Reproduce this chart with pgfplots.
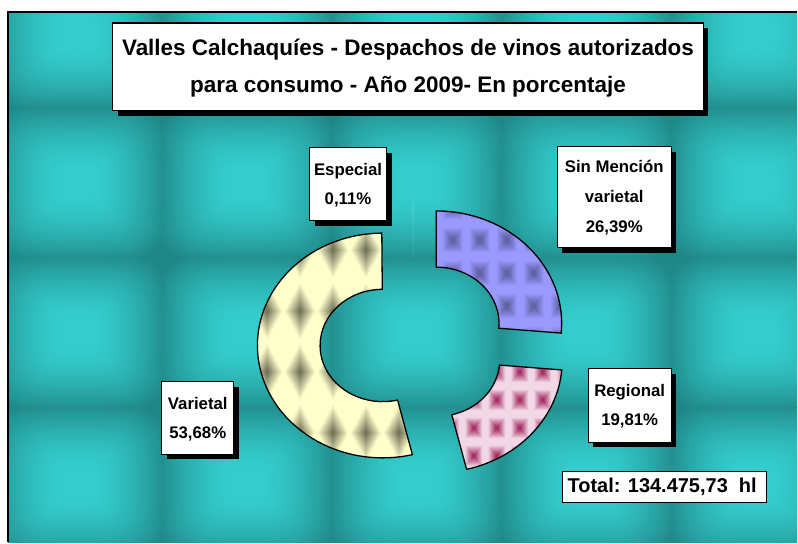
\documentclass[border=0pt]{standalone}
\usepackage{pgfplots}
\usepackage{pgfplotstable}
\pgfplotsset{compat=1.18}
\usepackage{fontspec}
\setmainfont{Liberation Sans}

\definecolor{tileB}{RGB}{33,139,139}
\definecolor{sinBase}{RGB}{153,153,255}
\definecolor{regBase}{RGB}{242,216,230}
\definecolor{varBase}{RGB}{255,255,204}

% pillow-shaped background tile (bright centre, dark rim)
\pgfdeclarefunctionalshading{tile}{\pgfpoint{-50bp}{-50bp}}{\pgfpoint{50bp}{50bp}}{}{%
  dup mul dup mul exch dup mul dup mul add sqrt sqrt
  5 sub 22 div dup 0 lt {pop 0} if dup 1 gt {pop 1} if
  dup sqrt mul
  dup -0.078 mul 0.204 add exch dup -0.27 mul 0.8 add exch -0.27 mul 0.8 add}
% square spots
\pgfdeclarefunctionalshading{sinsp}{\pgfpoint{-50bp}{-50bp}}{\pgfpoint{50bp}{50bp}}{}{%
  abs exch abs 2 copy lt {exch} if pop
  3 sub 16 div dup 0 lt {pop 0} if dup 1 gt {pop 1} if
  dup 0.216 mul 0.384 add exch dup 0.216 mul 0.384 add exch 0.353 mul 0.647 add}
\pgfdeclarefunctionalshading{regsp}{\pgfpoint{-50bp}{-50bp}}{\pgfpoint{50bp}{50bp}}{}{%
  abs exch abs 2 copy lt {exch} if pop
  2 sub 17 div dup 0 lt {pop 0} if dup 1 gt {pop 1} if
  dup 0.302 mul 0.647 add exch dup 0.671 mul 0.176 add exch 0.510 mul 0.392 add}
% diamond spots
\pgfdeclarefunctionalshading{varsp}{\pgfpoint{-50bp}{-50bp}}{\pgfpoint{50bp}{50bp}}{}{%
  abs exch abs add
  2 sub 22 div dup 0 lt {pop 0} if dup 1 gt {pop 1} if
  dup 0.537 mul 0.463 add exch dup 0.537 mul 0.463 add exch 0.439 mul 0.361 add}

% shares of wine dispatches, clockwise from 12 o'clock
\pgfplotstableread{
label value
SinMencion 26.39
Regional 19.81
Varietal 53.68
Especial 0.11
}\slices

% texture grid inside a slice: #1 slice id, #2 shading, #3 x0, #4 dx, #5 py0, #6 dy, #7 k list, #8 j list
\newcommand\texture[8]{%
  \begin{scope}
    \expandafter\let\expandafter\tmppath\csname slice#1\endcsname
    \clip \tmppath;
    \foreach \k in {#7}{\foreach \j in {#8}{%
      \pgfmathsetmacro\tcx{#3+#4*\k}%
      \pgfmathsetmacro\tcy{543-(#5+#6*\j)}%
      \shade[shading=#2] (\tcx-#4/2,\tcy-#6/2) rectangle (\tcx+#4/2,\tcy+#6/2);
    }}%
  \end{scope}}

\newcommand\labelbox[4]{% x1,y1,x2,y2 (y up)
  \fill[black] (#1+5,#2-5) rectangle (#3+5,#4-5);
  \filldraw[fill=white, draw=black, line width=1.1pt] (#1,#2) rectangle (#3,#4);}

\begin{document}
\begin{tikzpicture}
\pgfmathsetmacro\angstart{90}
\foreach \i in {0,...,3}{%
  \pgfplotstablegetelem{\i}{value}\of{\slices}%
  \pgfmathsetmacro\sla{\angstart}%
  \pgfmathsetmacro\slb{\angstart-3.6*\pgfplotsretval}%
  \pgfmathsetmacro\slm{(\sla+\slb)/2}%
  \pgfmathsetmacro\slcx{414+31*cos(\slm)}%
  \pgfmathsetmacro\slcy{200.5+27.8*sin(\slm)}%
  \pgfmathsetmacro\slpx{\slcx+125.5*cos(\sla)}%
  \pgfmathsetmacro\slpy{\slcy+112.5*sin(\sla)}%
  \pgfmathsetmacro\slqx{\slcx+62.75*cos(\slb)}%
  \pgfmathsetmacro\slqy{\slcy+56.25*sin(\slb)}%
  \expandafter\xdef\csname slice\i\endcsname{(\slpx,\slpy) arc[start angle=\sla, end angle=\slb, x radius=125.5pt, y radius=112.5pt] -- (\slqx,\slqy) arc[start angle=\slb, end angle=\sla, x radius=62.75pt, y radius=56.25pt] -- cycle}%
  \xdef\angstart{\slb}%
}
\begin{axis}[x=1pt, y=1pt, xmin=0, xmax=798, ymin=0, ymax=543, hide axis, clip=false]
  \fill[white] (0,0) rectangle (798,543);
  \pgfplotsextra{%
    \begin{scope}
      \clip (8,0) rectangle (798,531);
      \fill[tileB] (8,0) rectangle (798,531);
      \foreach \i in {-1,...,5}{\foreach \j in {-1,...,4}{%
        \pgfmathsetmacro\tx{77+170*\i}%
        \pgfmathsetmacro\ty{543-(33+150*\j)}%
        \shade[shading=tile] (\tx-85,\ty-75) rectangle (\tx+85,\ty+75);
      }}
    \end{scope}
    \draw[black, line width=2pt] (8,0) -- (8,531) -- (798,531);
  }
  % slices
  \fill[sinBase] \csname slice0\endcsname;
  \fill[regBase] \csname slice1\endcsname;
  \fill[varBase] \csname slice2\endcsname;
  \fill[varBase, fill opacity=0.2] \csname slice3\endcsname;
  \pgfplotsextra{%
    \texture{0}{sinsp}{453}{27}{240}{33}{-1,...,5}{-2,...,4}
    \texture{1}{regsp}{497}{23}{372}{28}{-3,...,4}{-2,...,5}
    \texture{2}{varsp}{300}{33}{250}{61}{-3,...,4}{-2,...,5}
  }
  \draw[black, line width=1.3pt] \csname slice0\endcsname;
  \draw[black, line width=1.3pt] \csname slice1\endcsname;
  \draw[black, line width=1.3pt] \csname slice2\endcsname;
  % title
  \labelbox{113}{520}{704}{432}
  \node[align=center, inner sep=0pt, font=\fontsize{22.5}{37}\selectfont\bfseries] at (408.5,474.5)
    {Valles Calchaquíes - Despachos de vinos autorizados\\para consumo - Año 2009- En porcentaje};
  % data labels
  \labelbox{310}{395}{387}{322}
  \node[align=center, inner sep=0pt, font=\fontsize{16.8}{29}\selectfont\bfseries] at (348.5,357.5) {Especial\\0,11\%};
  \labelbox{558}{396}{672}{295}
  \node[align=center, inner sep=0pt, font=\fontsize{16.8}{30}\selectfont\bfseries] at (615,345) {Sin Mención\\varietal\\26,39\%};
  \labelbox{162}{161}{234}{88}
  \node[align=center, inner sep=0pt, font=\fontsize{16.8}{29}\selectfont\bfseries] at (198,123.5) {Varietal\\53,68\%};
  \labelbox{589}{174}{672}{100}
  \node[align=center, inner sep=0pt, font=\fontsize{16.8}{29}\selectfont\bfseries] at (630.5,136.5) {Regional\\19,81\%};
  % total
  \filldraw[fill=white, draw=black, line width=1.1pt] (563,71) rectangle (767,40);
  \node[inner sep=0pt, font=\fontsize{20}{24}\selectfont\bfseries] at (663,55.5) {Total: 134.475,73\ \ hl};
\end{axis}
\end{tikzpicture}
\end{document}
